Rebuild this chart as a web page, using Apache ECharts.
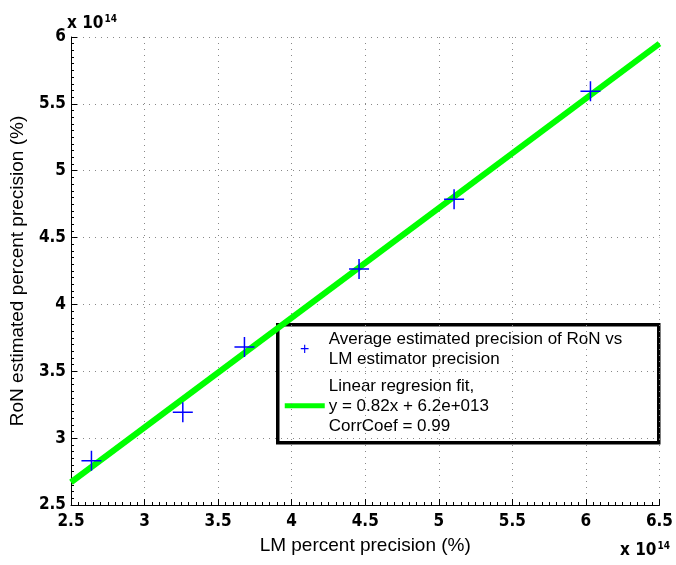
<!DOCTYPE html>
<html>
<head>
<meta charset="utf-8">
<script src="https://cdn.jsdelivr.net/npm/echarts@6/dist/echarts.min.js"></script>
<style>html,body{margin:0;padding:0;background:#fff;}#c{width:676px;height:565px;}</style>
</head>
<body>
<div id="c"></div>
<script>
// values in units of 1e14
var lmPrecision  = [2.639, 3.260, 3.679, 4.458, 5.104, 6.031];
var ronPrecision = [2.831, 3.193, 3.682, 4.265, 4.786, 5.594];
var fitX = [2.5, 6.5];
var fitY = [2.67, 5.95];
var xTicks = {min: 2.5, max: 6.5, interval: 0.5};
var yTicks = {min: 2.5, max: 6, interval: 0.5};
var legendLines = ['Average estimated precision of RoN vs', 'LM estimator precision', 'Linear regresion fit,', 'y = 0.82x + 6.2e+013', 'CorrCoef = 0.99'];

var scatterData = lmPrecision.map(function (x, i) { return [x, ronPrecision[i]]; });
var fitData = fitX.map(function (x, i) { return [x, fitY[i]]; });

var condFont = '"DejaVu Sans Condensed", "Liberation Sans", sans-serif';
var tickFont = {fontFamily: condFont, fontWeight: 'bold', fontSize: 17, color: '#000'};
var plusPath = 'path://M0,10L20,10M10,0L10,20';

var chart = echarts.init(document.getElementById('c'), null, {renderer: 'canvas'});
chart.setOption({
  animation: false,
  backgroundColor: '#fff',
  grid: {left: 67, right: 14, top: 37, bottom: 60, containLabel: false},
  xAxis: {
    type: 'value', min: xTicks.min, max: xTicks.max, interval: xTicks.interval,
    name: 'LM percent precision (%)', nameLocation: 'middle', nameGap: 31,
    nameTextStyle: {fontFamily: 'Liberation Sans', fontSize: 19, color: '#000'},
    axisLine: {show: true, onZero: false, lineStyle: {color: '#000', width: 1}},
    axisTick: {show: true, inside: true, length: 6, lineStyle: {color: '#000'}},
    minorTick: {show: true, splitNumber: 10, length: 3, lineStyle: {color: '#000'}},
    axisLabel: Object.assign({margin: 8, formatter: function (v) { return String(v); }}, tickFont),
    splitLine: {show: true, lineStyle: {color: '#888', type: [1, 5], width: 1}}
  },
  yAxis: {
    type: 'value', min: yTicks.min, max: yTicks.max, interval: yTicks.interval,
    name: 'RoN estimated percent precision (%)', nameLocation: 'middle', nameGap: 44,
    nameTextStyle: {fontFamily: 'Liberation Sans', fontSize: 19, color: '#000'},
    axisLine: {show: true, onZero: false, lineStyle: {color: '#000', width: 1}},
    axisTick: {show: true, inside: true, length: 6, lineStyle: {color: '#000'}},
    minorTick: {show: true, splitNumber: 10, length: 3, lineStyle: {color: '#000'}},
    axisLabel: Object.assign({margin: 5, formatter: function (v) { return String(v); }}, tickFont),
    splitLine: {show: true, lineStyle: {color: '#888', type: [1, 5], width: 1}}
  },
  series: [
    {
      type: 'line', data: fitData, showSymbol: false, symbol: 'none', z: 2,
      lineStyle: {color: '#00ff00', width: 6}, silent: true
    },
    {
      type: 'scatter', data: scatterData, symbol: plusPath, symbolSize: 20, z: 3,
      itemStyle: {color: 'rgba(0,0,0,0)', borderColor: '#0000ff', borderWidth: 1.5, opacity: 1}
    }
  ],
  graphic: [
    {type: 'group', left: 67, top: 14, z: 100, children: [
      {type: 'text', style: {text: '{a|x 10}{b|14}', rich: {
        a: {fontFamily: condFont, fontWeight: 'bold', fontSize: 17, color: '#000', verticalAlign: 'bottom'},
        b: {fontFamily: condFont, fontWeight: 'bold', fontSize: 10, color: '#000', verticalAlign: 'top', padding: [0, 0, 8, 1]}
      }}}
    ]},
    {type: 'group', left: 620, top: 541, z: 100, children: [
      {type: 'text', style: {text: '{a|x 10}{b|14}', rich: {
        a: {fontFamily: condFont, fontWeight: 'bold', fontSize: 17, color: '#000', verticalAlign: 'bottom'},
        b: {fontFamily: condFont, fontWeight: 'bold', fontSize: 10, color: '#000', verticalAlign: 'top', padding: [0, 0, 8, 1]}
      }}}
    ]},
    {type: 'group', left: 276, top: 323, z: 100, children: [
      {type: 'rect', shape: {x: 0, y: 0, width: 381, height: 118}, style: {fill: '#fff', stroke: '#000', lineWidth: 3.5}},
      {type: 'text', style: {text: '+', x: 27, y: 25, fill: '#0000ff', fontFamily: 'Liberation Sans', fontSize: 16, align: 'center', verticalAlign: 'middle'}},
      {type: 'line', shape: {x1: 7, y1: 81, x2: 47, y2: 81}, style: {stroke: '#00ff00', lineWidth: 5}},
      {type: 'text', style: {text: legendLines[0], x: 51, y: 15, fill: '#000', fontFamily: 'Liberation Sans', fontSize: 17, verticalAlign: 'middle'}},
      {type: 'text', style: {text: legendLines[1], x: 51, y: 35, fill: '#000', fontFamily: 'Liberation Sans', fontSize: 17, verticalAlign: 'middle'}},
      {type: 'text', style: {text: legendLines[2], x: 51, y: 62, fill: '#000', fontFamily: 'Liberation Sans', fontSize: 17, verticalAlign: 'middle'}},
      {type: 'text', style: {text: legendLines[3], x: 51, y: 82, fill: '#000', fontFamily: 'Liberation Sans', fontSize: 17, verticalAlign: 'middle'}},
      {type: 'text', style: {text: legendLines[4], x: 51, y: 102, fill: '#000', fontFamily: 'Liberation Sans', fontSize: 17, verticalAlign: 'middle'}}
    ]}
  ]
});
</script>
</body>
</html>
